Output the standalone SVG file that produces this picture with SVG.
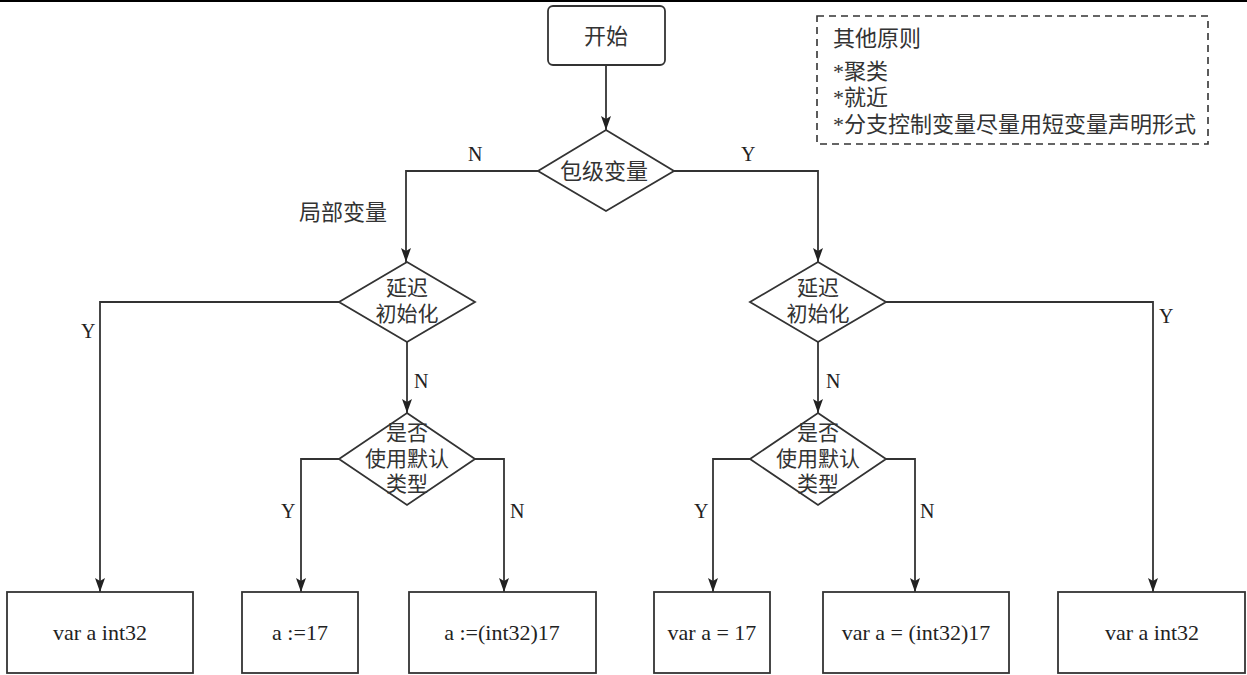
<svg xmlns="http://www.w3.org/2000/svg" width="1247" height="675" viewBox="0 0 1247 675">
<style>
.shape{fill:#fff;stroke:#333;stroke-width:1.8}
.conn{fill:none;stroke:#333;stroke-width:1.8}
.cjk{font-family:"Liberation Serif","Noto Sans CJK SC",serif;font-size:21px;fill:#333}
.lat{font-family:"Liberation Serif","Noto Sans CJK SC",serif;font-size:22px;fill:#222}
.lbl{font-family:"Liberation Serif",serif;font-size:20px;fill:#222}
.mid{text-anchor:middle}
</style>
<defs>
<marker id="arr" markerUnits="userSpaceOnUse" markerWidth="16" markerHeight="12" viewBox="0 -6 16 12" refX="14" refY="0" orient="auto">
<path d="M0,-5 L14,0 L0,5 L3,0 z" fill="#222"/>
</marker>
</defs>
<rect x="0" y="0" width="1247" height="675" fill="#fff"/>
<line x1="0" y1="1" x2="1247" y2="1" stroke="#000" stroke-width="2"/>

<g id="connectors">
<path class="conn" d="M606,65 V130" marker-end="url(#arr)"/>
<path class="conn" d="M538,171 H406 V262" marker-end="url(#arr)"/>
<path class="conn" d="M674,171 H818 V262" marker-end="url(#arr)"/>
<path class="conn" d="M339,302 H100 V592" marker-end="url(#arr)"/>
<path class="conn" d="M407,342 V413" marker-end="url(#arr)"/>
<path class="conn" d="M339,459 H301 V592" marker-end="url(#arr)"/>
<path class="conn" d="M475,459 H504 V592" marker-end="url(#arr)"/>
<path class="conn" d="M818,342 V413" marker-end="url(#arr)"/>
<path class="conn" d="M886,302 H1153 V592" marker-end="url(#arr)"/>
<path class="conn" d="M750,459 H713 V592" marker-end="url(#arr)"/>
<path class="conn" d="M886,459 H915 V592" marker-end="url(#arr)"/>
</g>

<g id="labels">
<text class="lbl" x="468" y="161">N</text>
<text class="lbl" x="741" y="161">Y</text>
<text class="cjk" x="299" y="220" style="font-size:22px">局部变量</text>
<text class="lbl" x="81" y="338">Y</text>
<text class="lbl" x="414" y="388">N</text>
<text class="lbl" x="281" y="518">Y</text>
<text class="lbl" x="510" y="518">N</text>
<text class="lbl" x="826" y="388">N</text>
<text class="lbl" x="1159" y="323">Y</text>
<text class="lbl" x="694" y="518">Y</text>
<text class="lbl" x="920" y="518">N</text>
</g>

<g id="start">
<rect class="shape" x="548" y="6" width="117" height="59" rx="5"/>
<text class="cjk mid" x="606" y="44" style="font-size:22px">开始</text>
</g>

<g id="d-pkg">
<polygon class="shape" points="606,130 674,171 606,211 538,171"/>
<text class="cjk mid" x="604" y="179" style="font-size:22px">包级变量</text>
</g>

<g id="d-lazy-left">
<polygon class="shape" points="407,262 475,302 407,342 339,302"/>
<text class="cjk mid" x="407" y="295">延迟</text>
<text class="cjk mid" x="407" y="321">初始化</text>
</g>

<g id="d-type-left">
<polygon class="shape" points="407,413 475,459 407,505 339,459"/>
<text class="cjk mid" x="407" y="440">是否</text>
<text class="cjk mid" x="407" y="466">使用默认</text>
<text class="cjk mid" x="407" y="491">类型</text>
</g>

<g id="d-lazy-right">
<polygon class="shape" points="818,262 886,302 818,342 750,302"/>
<text class="cjk mid" x="818" y="295">延迟</text>
<text class="cjk mid" x="818" y="321">初始化</text>
</g>

<g id="d-type-right">
<polygon class="shape" points="818,413 886,459 818,505 750,459"/>
<text class="cjk mid" x="818" y="440">是否</text>
<text class="cjk mid" x="818" y="466">使用默认</text>
<text class="cjk mid" x="818" y="491">类型</text>
</g>

<g id="b1">
<rect class="shape" x="7" y="592" width="186" height="81"/>
<text class="lat mid" x="100" y="640">var a int32</text>
</g>
<g id="b2">
<rect class="shape" x="242" y="592" width="116" height="81"/>
<text class="lat mid" x="300" y="640">a :=17</text>
</g>
<g id="b3">
<rect class="shape" x="409" y="592" width="187" height="81"/>
<text class="lat mid" x="502" y="640">a :=(int32)17</text>
</g>
<g id="b4">
<rect class="shape" x="654" y="592" width="116" height="81"/>
<text class="lat mid" x="712" y="640">var a = 17</text>
</g>
<g id="b5">
<rect class="shape" x="823" y="592" width="186" height="81"/>
<text class="lat mid" x="916" y="640">var a = (int32)17</text>
</g>
<g id="b6">
<rect class="shape" x="1058" y="592" width="187" height="81"/>
<text class="lat mid" x="1152" y="640">var a int32</text>
</g>

<g id="notes">
<rect x="817" y="16" width="391" height="128" fill="none" stroke="#333" stroke-width="1.6" stroke-dasharray="7,5"/>
<text class="cjk" x="833" y="46" style="font-size:22px">其他原则</text>
<text class="cjk" x="833" y="79" style="font-size:22px">*聚类</text>
<text class="cjk" x="833" y="105" style="font-size:22px">*就近</text>
<text class="cjk" x="833" y="132" style="font-size:22px">*分支控制变量尽量用短变量声明形式</text>
</g>
</svg>
